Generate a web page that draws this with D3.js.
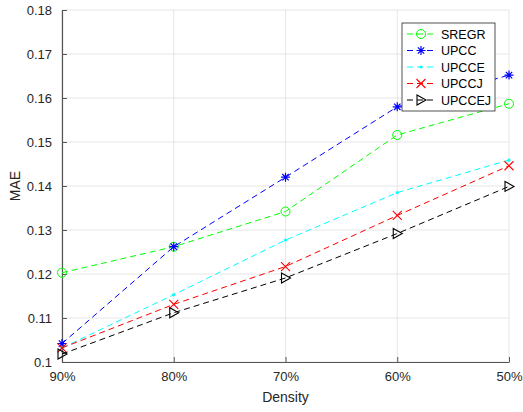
<!DOCTYPE html>
<html>
<head>
<meta charset="utf-8">
<script src="https://cdn.jsdelivr.net/npm/d3@7"></script>
<style>
  body { margin: 0; background: #fff; }
  text { font-family: "Liberation Sans", Arial, sans-serif; }
</style>
</head>
<body>
<svg width="523" height="412"></svg>
<script>
// data
var densities = ["90%", "80%", "70%", "60%", "50%"];
var sregr  = [0.1203, 0.1262, 0.1342, 0.1516, 0.1587];
var upcc   = [0.1042, 0.1262, 0.1420, 0.1580, 0.1652];
var upcce  = [0.1032, 0.1153, 0.1277, 0.1385, 0.1459];
var upccj  = [0.1032, 0.1131, 0.1217, 0.1333, 0.1446];
var upccej = [0.1018, 0.1112, 0.1191, 0.1292, 0.1399];
var yTicks = [0.1, 0.11, 0.12, 0.13, 0.14, 0.15, 0.16, 0.17, 0.18];

var series = [
  {name: "SREGR",  values: sregr,  color: "#00ff00", marker: "circle"},
  {name: "UPCC",   values: upcc,   color: "#0000ff", marker: "star"},
  {name: "UPCCE",  values: upcce,  color: "#00ffff", marker: "dot"},
  {name: "UPCCJ",  values: upccj,  color: "#ff0000", marker: "cross"},
  {name: "UPCCEJ", values: upccej, color: "#000000", marker: "triangle"}
];

var svg = d3.select("svg");
var margin = {left: 62, right: 14, top: 10, bottom: 50};
var width = +svg.attr("width"), height = +svg.attr("height");

var x = d3.scalePoint().domain(densities).range([margin.left, width - margin.right]);
var y = d3.scaleLinear().domain([0.1, 0.18]).range([height - margin.bottom, margin.top]);

// grid
var grid = svg.append("g");
grid.selectAll(".gy").data(yTicks).enter().append("line")
  .attr("x1", margin.left).attr("x2", width - margin.right)
  .attr("y1", d => y(d)).attr("y2", d => y(d))
  .attr("stroke", "#e6e6e6").attr("stroke-width", 1);
grid.selectAll(".gx").data(densities).enter().append("line")
  .attr("x1", d => x(d)).attr("x2", d => x(d))
  .attr("y1", margin.top).attr("y2", height - margin.bottom)
  .attr("stroke", "#e6e6e6").attr("stroke-width", 1);

// axes
var yAxis = svg.append("g")
  .attr("transform", "translate(" + margin.left + ",0)")
  .call(d3.axisLeft(y).tickValues(yTicks).tickSizeInner(-5).tickSizeOuter(0).tickPadding(10)
    .tickFormat(d => d3.format("")(+d.toFixed(2))));
var xAxis = svg.append("g")
  .attr("transform", "translate(0," + (height - margin.bottom) + ")")
  .call(d3.axisBottom(x).tickSizeInner(-5).tickSizeOuter(0).tickPadding(10));
[xAxis, yAxis].forEach(function(a) {
  a.select(".domain").attr("stroke", "#555").attr("stroke-width", 1.2);
  a.selectAll(".tick line").attr("stroke", "#555");
  a.selectAll("text").attr("fill", "#262626").style("font-size", "13px")
    .style("font-family", "Liberation Sans, Arial, sans-serif");
});

svg.append("text").attr("x", (margin.left + width - margin.right) / 2).attr("y", 402)
  .attr("text-anchor", "middle").attr("fill", "#262626").style("font-size", "14px").text("Density");
svg.append("text").attr("transform", "translate(20," + y(0.14) + ") rotate(-90)")
  .attr("text-anchor", "middle").attr("fill", "#262626").style("font-size", "14px").text("MAE");

function drawMarker(g, type, color) {
  if (type === "circle") {
    g.append("circle").attr("r", 4.5).attr("fill", "none").attr("stroke", color).attr("stroke-width", 1);
  } else if (type === "star") {
    g.append("path").attr("d", "M-4.5,0H4.5M0,-4.5V4.5M-3.2,-3.2L3.2,3.2M-3.2,3.2L3.2,-3.2")
      .attr("stroke", color).attr("stroke-width", 1.2);
  } else if (type === "dot") {
    g.append("circle").attr("r", 1.6).attr("fill", color);
  } else if (type === "cross") {
    g.append("path").attr("d", "M-4.5,-4.5L4.5,4.5M-4.5,4.5L4.5,-4.5")
      .attr("stroke", color).attr("stroke-width", 1.1);
  } else if (type === "triangle") {
    g.append("path").attr("d", "M-4,-5L5,0L-4,5Z").attr("fill", "none")
      .attr("stroke", color).attr("stroke-width", 1.1);
  }
}

var line = d3.line().x((d, i) => x(densities[i])).y(d => y(d));

series.forEach(function(s) {
  svg.append("path").datum(s.values).attr("d", line)
    .attr("fill", "none").attr("stroke", s.color).attr("stroke-width", 1)
    .attr("stroke-dasharray", "6,4");
  s.values.forEach(function(v, i) {
    var g = svg.append("g").attr("transform", "translate(" + x(densities[i]) + "," + y(v) + ")");
    drawMarker(g, s.marker, s.color);
  });
});

// legend
var leg = svg.append("g").attr("transform", "translate(402,23)");
leg.append("rect").attr("width", 93).attr("height", 88)
  .attr("fill", "#fff").attr("stroke", "#262626").attr("stroke-width", 0.8);
series.forEach(function(s, i) {
  var ly = 11 + i * 16.5;
  leg.append("line").attr("x1", 4).attr("x2", 34).attr("y1", ly).attr("y2", ly)
    .attr("stroke", s.color).attr("stroke-dasharray", "6,4").attr("stroke-dashoffset", -1);
  var g = leg.append("g").attr("transform", "translate(19," + ly + ")");
  drawMarker(g, s.marker, s.color);
  leg.append("text").attr("x", 39).attr("y", ly + 4.5).attr("fill", "#000")
    .style("font-size", "12.5px").text(s.name);
});
</script>
</body>
</html>
